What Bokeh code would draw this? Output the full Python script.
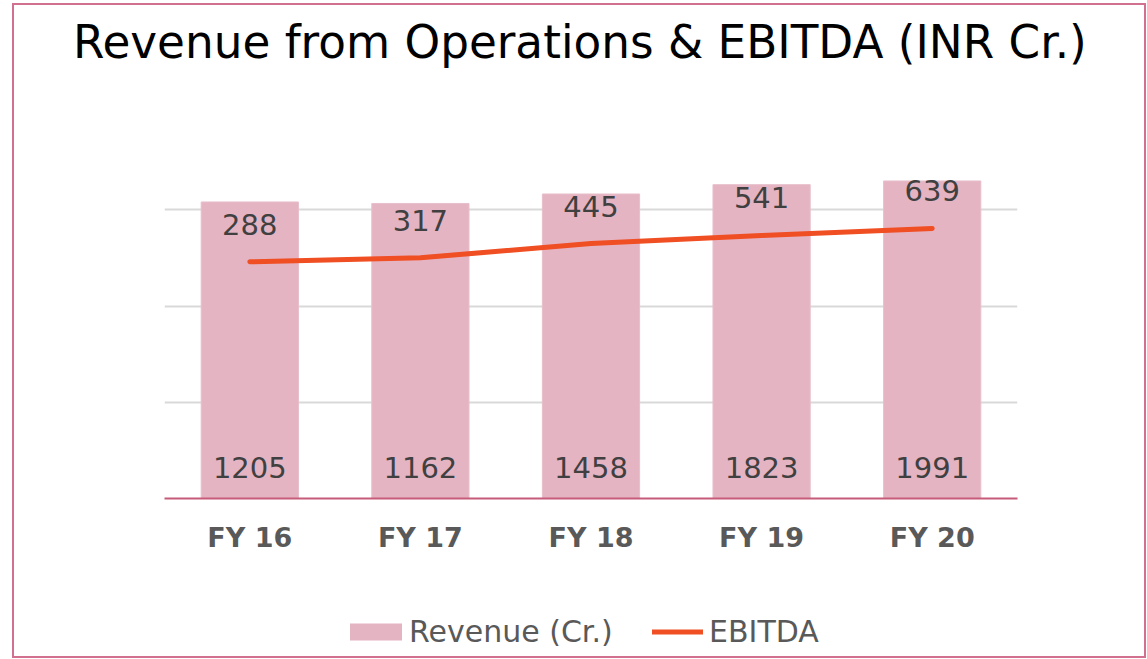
from bokeh.plotting import figure
from bokeh.layouts import column
from bokeh.models import (ColumnDataSource, FactorRange, Range1d, FixedTicker, LabelSet,
                          Legend, LegendItem, Div)
from bokeh.core.properties import value
from bokeh.embed import file_html
from bokeh.resources import INLINE

title_text = "Revenue from Operations &amp; EBITDA (INR Cr.)"
years = ["FY 16", "FY 17", "FY 18", "FY 19", "FY 20"]
revenue = [1205, 1162, 1458, 1823, 1991]
ebitda = [288, 317, 445, 541, 639]
grid_values = [1, 10, 100, 1000, 10000]
series_names = ["Revenue (Cr.)", "EBITDA"]

FONT = "DejaVu Sans"
BAR_COLOR = "#e5b4c3"
LINE_COLOR = "#f04e23"

src = ColumnDataSource(dict(year=years, revenue=revenue, ebitda=ebitda,
                            rev_txt=[str(v) for v in revenue],
                            eb_txt=[str(v) for v in ebitda]))

x_range = FactorRange(*years, range_padding=0, group_padding=0)
W = 1130

# title strip
title_div = Div(
    text=('<div style="font-family:\'DejaVu Sans\';font-size:45.3px;line-height:54px;'
          'color:#000000;padding-top:11px;padding-left:59px;white-space:nowrap;margin:0">'
          + title_text + '</div>'),
    width=W, height=100, margin=0)

# main chart
p = figure(x_range=x_range, y_range=Range1d(1, 10000), y_axis_type="log",
           width=W, height=450, output_backend="svg", toolbar_location=None,
           min_border_left=150, min_border_right=127, min_border_top=8, min_border_bottom=57,
           title=None)
p.background_fill_color = "white"
p.border_fill_color = "white"
p.outline_line_color = None

bars = p.vbar(x="year", top="revenue", bottom=1, width=0.57, source=src,
              fill_color=BAR_COLOR, line_color="#e8bfcb", line_width=1)
line = p.line(x="year", y="ebitda", source=src, line_color=LINE_COLOR, line_width=5,
              line_cap="round", line_join="round")

p.add_layout(LabelSet(x="year", y=1, text="rev_txt", source=src, y_offset=21,
                      text_align="center", text_baseline="alphabetic",
                      text_font=value(FONT), text_font_size=value("29px"),
                      text_color="#404040"))
p.add_layout(LabelSet(x="year", y="ebitda", text="eb_txt", source=src, y_offset=27,
                      text_align="center", text_baseline="alphabetic",
                      text_font=value(FONT), text_font_size=value("29px"),
                      text_color="#404040"))

p.yaxis.visible = False
p.ygrid.ticker = FixedTicker(ticks=grid_values)
p.yaxis.ticker = FixedTicker(ticks=grid_values)
p.ygrid.grid_line_color = "#d9d9d9"
p.ygrid.grid_line_width = 2
p.xgrid.grid_line_color = None

p.xaxis.axis_line_color = "#c75b7a"
p.xaxis.axis_line_width = 2
p.xaxis.major_tick_line_color = None
p.xaxis.major_tick_out = 0
p.xaxis.major_tick_in = 0
p.xaxis.major_label_standoff = 23
p.xaxis.major_label_text_font = FONT
p.xaxis.major_label_text_font_size = "27px"
p.xaxis.major_label_text_font_style = "bold"
p.xaxis.major_label_text_color = "#595959"

# legend strip below the chart: same series, drawn outside its visible range
lf = figure(width=W, height=101, output_backend="svg", toolbar_location=None,
            x_range=x_range, y_range=Range1d(100000, 200000),
            x_axis_location=None, y_axis_location=None,
            min_border=0, title=None)
lf.grid.visible = False
lf.outline_line_color = None
lf.background_fill_color = "white"
lf.border_fill_color = "white"
lb = lf.vbar(x="year", top="revenue", bottom=1, width=0.57, source=src,
             fill_color=BAR_COLOR, line_color=None)
ll = lf.line(x="year", y="ebitda", source=src, line_color=LINE_COLOR, line_width=5,
             line_cap="round")

common = dict(orientation="horizontal", padding=0, margin=0,
              label_text_font=FONT, label_text_font_size="30px",
              label_text_color="#595959",
              background_fill_alpha=0, border_line_color=None)
leg1 = Legend(items=[LegendItem(label=series_names[0], renderers=[lb])],
              location=(179, 7), glyph_width=65, glyph_height=21, label_standoff=1,
              **common)
leg2 = Legend(items=[LegendItem(label=series_names[1], renderers=[ll])],
              location=(488, 7), glyph_width=51, glyph_height=21, label_standoff=6,
              **common)
lf.add_layout(leg1)
lf.add_layout(leg2)

layout = column(title_div, p, lf, spacing=0, margin=(3, 0, 0, 12),
                styles={"border": "2px solid #d2708f"})

open("out.html", "w").write(file_html(layout, INLINE))
